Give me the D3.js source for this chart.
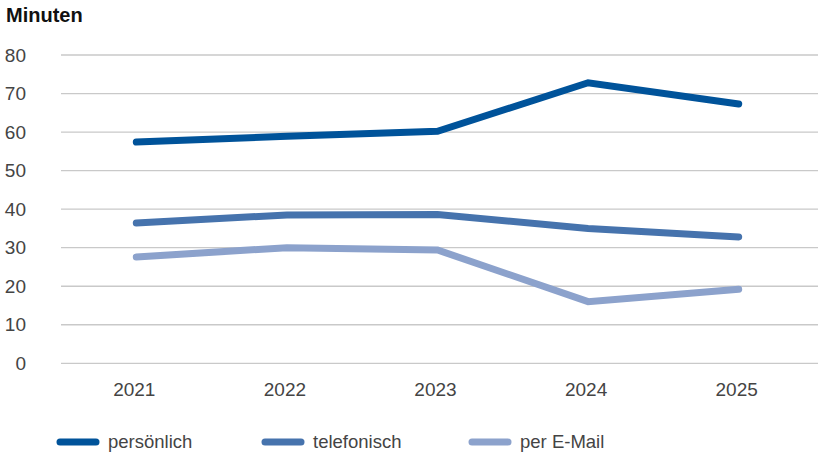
<!DOCTYPE html>
<html><head><meta charset="utf-8">
<script src="https://cdn.jsdelivr.net/npm/d3@7"></script>
<style>
html,body{margin:0;padding:0;background:#fff;}
text{font-family:"Liberation Sans",Arial,Helvetica,sans-serif;}
</style></head>
<body>
<svg id="chart" width="818" height="452"></svg>
<script>
const years = ["2021","2022","2023","2024","2025"];
const persoenlich = [57.4, 58.9, 60.2, 72.8, 67.3];
const telefonisch = [36.4, 38.5, 38.6, 35.0, 32.8];
const email = [27.6, 30.0, 29.4, 16.0, 19.2];
const yTicks = [0,10,20,30,40,50,60,70,80];
const seriesNames = ["persönlich","telefonisch","per E-Mail"];
const seriesColors = ["#00539A","#4673AD","#8CA2CC"];
const seriesValues = [persoenlich, telefonisch, email];

const svg = d3.select("#chart");
const x = d3.scaleBand().domain(years).range([61, 814]);
const y = d3.scaleLinear().domain([0, 80]).range([363.3, 55]);

svg.append("text").attr("x", 6).attr("y", 21.5)
  .attr("font-size", 20).attr("font-weight", "bold").attr("fill", "#111").text("Minuten");

// grid
svg.append("g").selectAll("line").data(yTicks).join("line")
  .attr("x1", 61).attr("x2", 818)
  .attr("y1", d => y(d)).attr("y2", d => y(d))
  .attr("stroke", "#c9c9c9").attr("stroke-width", 1.3);

// y labels
svg.append("g").selectAll("text").data(yTicks).join("text")
  .attr("x", 26).attr("y", d => y(d)).attr("dy", "0.35em")
  .attr("text-anchor", "end").attr("font-size", 19).attr("fill", "#444")
  .text(d => d);

// x labels
svg.append("g").selectAll("text").data(years).join("text")
  .attr("x", d => x(d) + x.bandwidth()/2 - 2).attr("y", 396)
  .attr("text-anchor", "middle").attr("font-size", 19).attr("fill", "#444")
  .text(d => d);

const line = d3.line().x((d,i) => x(years[i]) + x.bandwidth()/2).y(d => y(d));
seriesValues.forEach((vals, k) => {
  svg.append("path").datum(vals).attr("d", line)
    .attr("fill", "none").attr("stroke", seriesColors[k]).attr("stroke-width", 7)
    .attr("stroke-linecap", "round").attr("stroke-linejoin", "miter");
});

// legend
const legX = [60, 265, 472];
const lg = svg.append("g").selectAll("g").data(seriesNames).join("g")
  .attr("transform", (d,i) => `translate(${legX[i]},442)`);
lg.append("line").attr("x1", 0).attr("x2", 36).attr("y1", 0).attr("y2", 0)
  .attr("stroke", (d,i) => seriesColors[i]).attr("stroke-width", 7).attr("stroke-linecap", "round");
lg.append("text").attr("x", 48).attr("y", 0).attr("dy", "0.33em")
  .attr("font-size", 18.5).attr("fill", "#444").text(d => d);
</script>
</body></html>
